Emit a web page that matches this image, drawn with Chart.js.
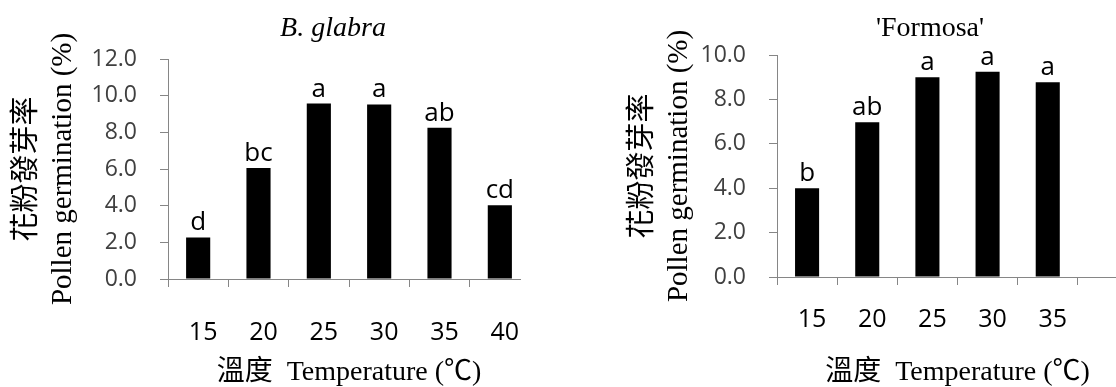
<!DOCTYPE html>
<html>
<head>
<meta charset="utf-8">
<script src="https://cdn.jsdelivr.net/npm/chart.js@4"></script>
<style>
    html, body { margin: 0; padding: 0; background: #fff; }
    body { width: 1116px; height: 387px; overflow: hidden; position: relative; }
    #left-wrap { position: absolute; left: 0; top: 0; width: 521px; height: 387px; overflow: hidden; }
    #right-wrap { position: absolute; left: 556px; top: 0; width: 560px; height: 387px; overflow: hidden; }
    canvas { position: absolute; left: 0; top: 0; }
</style>
</head>
<body>
<div id="left-wrap"><canvas id="chartLeft" width="666" height="387"></canvas></div>
<div id="right-wrap"><canvas id="chartRight" width="748" height="387"></canvas></div>
<script>
// 溫度 (°C)
const leftTemps = ['15', '20', '25', '30', '35', '40'];
const rightTemps = ['15', '20', '25', '30', '35', ''];

// 花粉發芽率 (%)
const glabraValues = [2.27, 6.06, 9.57, 9.52, 8.25, 4.02];
const formosaValues = [4.0, 6.97, 9.0, 9.25, 8.77, null];

// 顯著性字母
const glabraLetters = ['d', 'bc', 'a', 'a', 'ab', 'cd'];
const formosaLetters = ['b', 'ab', 'a', 'a', 'a', ''];

const AXIS_GRAY = '#868686';
const SERIF = '"Liberation Serif", "Times New Roman", "Noto Sans CJK TC", serif';
const SANS = '"Open Sans", "Noto Sans", sans-serif';

// 在柱子上方寫字母
const letterPlugin = {
    id: 'letters',
    afterDatasetsDraw(chart, args, opts) {
        const ctx = chart.ctx;
        const meta = chart.getDatasetMeta(0);
        ctx.save();
        ctx.font = '26px ' + SANS;
        ctx.fillStyle = '#000';
        ctx.textAlign = 'center';
        ctx.textBaseline = 'alphabetic';
        meta.data.forEach((bar, i) => {
            const t = opts.letters[i];
            if (t) ctx.fillText(t, bar.x, bar.y - 7);
        });
        ctx.restore();
    }
};

function makeChart(id, cfg) {
    const ctx = document.getElementById(id).getContext('2d');
    return new Chart(ctx, {
        type: 'bar',
        data: {
            labels: cfg.labels,
            datasets: [{
                data: cfg.values,
                backgroundColor: '#000',
                borderWidth: 0,
                barPercentage: 0.4,
                categoryPercentage: 1.0
            }]
        },
        options: {
            responsive: false,
            animation: false,
            layout: { padding: 0 },
            plugins: {
                legend: { display: false },
                tooltip: { enabled: false },
                title: {
                    display: true,
                    text: cfg.title,
                    color: '#000',
                    font: { family: SERIF, size: 28, style: cfg.italic ? 'italic' : 'normal', weight: 'normal', lineHeight: 1.2 },
                    padding: { top: 12, bottom: cfg.titleGap }
                },
                letters: { letters: cfg.letters }
            },
            scales: {
                x: {
                    grid: { drawOnChartArea: false, drawTicks: true, tickLength: 8, color: AXIS_GRAY, offset: true },
                    border: { color: AXIS_GRAY, width: 1 },
                    ticks: {
                        color: '#000',
                        font: { family: SANS, size: 25 },
                        padding: cfg.xPad,
                        labelOffset: 5,
                        maxRotation: 0,
                        autoSkip: false
                    },
                    title: {
                        display: true,
                        text: '溫度  Temperature (℃)',
                        color: '#000',
                        font: { family: SERIF, size: 28, lineHeight: 1.0 },
                        padding: { top: 0, bottom: 0 }
                    },
                    afterFit: (scale) => { scale.height = cfg.xHeight; }
                },
                y: {
                    min: 0,
                    max: cfg.yMax,
                    grid: { drawOnChartArea: false, drawTicks: true, tickLength: 8, color: AXIS_GRAY },
                    border: { color: AXIS_GRAY, width: 1 },
                    ticks: {
                        stepSize: 2,
                        color: '#404040',
                        font: { family: SANS, size: 23 },
                        padding: 23,
                        callback: (v) => Number(v).toFixed(1)
                    },
                    title: {
                        display: true,
                        text: ['花粉發芽率', 'Pollen germination (%)'],
                        color: '#000',
                        font: { family: SERIF, size: 29, lineHeight: 1.24 },
                        padding: { top: cfg.yTitleTop, bottom: 0 }
                    },
                    afterFit: (scale) => { scale.width = cfg.yWidth; }
                },
                // 右側空白 (原圖在此裁切)
                spacer: {
                    position: 'right',
                    display: true,
                    grid: { display: false },
                    border: { display: false },
                    ticks: { display: false },
                    afterFit: (scale) => { scale.width = cfg.padRight; }
                }
            }
        },
        plugins: [letterPlugin]
    });
}

makeChart('chartLeft', {
    labels: leftTemps,
    values: glabraValues,
    letters: glabraLetters,
    title: 'B. glabra',
    italic: true,
    yMax: 12,
    padRight: 136,
    titleGap: 13.4,
    xHeight: 108,
    xPad: 31,
    yWidth: 168,
    yTitleTop: 9
});

makeChart('chartRight', {
    labels: rightTemps,
    values: formosaValues,
    letters: formosaLetters,
    title: "'Formosa'",
    italic: false,
    yMax: 10,
    padRight: 166,
    titleGap: 9.4,
    xHeight: 110,
    xPad: 20,
    yWidth: 221,
    yTitleTop: 69.5
});
</script>
</body>
</html>
